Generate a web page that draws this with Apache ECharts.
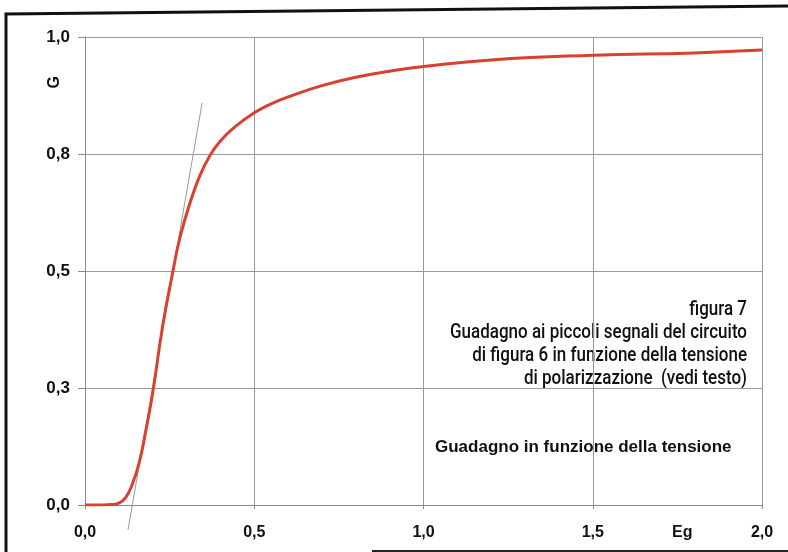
<!DOCTYPE html>
<html><head><meta charset="utf-8">
<script src="https://cdn.jsdelivr.net/npm/echarts@6/dist/echarts.min.js"></script>
<style>html,body{margin:0;padding:0;background:#fff}#c{width:788px;height:552px}</style>
</head><body><div id="c"></div>
<script>
// Data
const egValues = [0, 0.05, 0.08, 0.10, 0.12, 0.14, 0.16, 0.18, 0.20, 0.23, 0.26, 0.28, 0.31, 0.34, 0.37, 0.40, 0.44, 0.50, 0.55, 0.60, 0.70, 0.80, 0.90, 1.0, 1.2, 1.5, 1.8, 2.0];
const gainValues = [0, 0, 0.001, 0.004, 0.016, 0.045, 0.09, 0.16, 0.24, 0.385, 0.50, 0.57, 0.645, 0.705, 0.748, 0.778, 0.806, 0.838, 0.857, 0.872, 0.896, 0.914, 0.927, 0.937, 0.951, 0.961, 0.966, 0.972];
const tangentX = [0.127, 0.346];
const tangentY = [-0.053, 0.859];
const xTickLabels = ['0,0', '0,5', '1,0', '1,5', '2,0'];
const yTickLabels = ['0,0', '0,3', '0,5', '0,8', '1,0'];
const captionLines = ['figura 7', 'Guadagno ai piccoli segnali del circuito', 'di figura 6 in funzione della tensione', 'di polarizzazione  (vedi testo)'];
const legendText = 'Guadagno in funzione della tensione';
const xName = 'Eg';
const yName = 'G';

const curve = egValues.map((x, i) => [x, gainValues[i]]);
const tangent = tangentX.map((x, i) => [x, tangentY[i]]);

// condensed caption: scale a regular sans horizontally
const capFont = '500 21px Roboto, "Liberation Sans", Arial, sans-serif';
const mctx = document.createElement('canvas').getContext('2d');
mctx.font = capFont;
const capScale = 297 / mctx.measureText(captionLines[1]).width;
const capBaselines = [315, 338, 361, 384];

const chart = echarts.init(document.getElementById('c'), null, {renderer: 'canvas'});
const lblFont = {fontFamily: 'Liberation Sans, Arial, sans-serif', fontWeight: 'bold', color: '#111'};
const captionGraphics = captionLines.map((t, i) => ({
  type: 'text', x: 747, y: capBaselines[i] + 5, scaleX: capScale, scaleY: 1,
  style: {text: t, font: capFont, align: 'right', verticalAlign: 'bottom', fill: '#111'}
}));
chart.setOption({
  backgroundColor: '#fff',
  animation: false,
  grid: {left: 85, right: 26, top: 37, bottom: 47, containLabel: false},
  xAxis: {
    type: 'value', min: 0, max: 2, interval: 0.5,
    axisLine: {show: true, lineStyle: {color: '#8a8a8a', width: 1}},
    axisTick: {show: true, length: 4, lineStyle: {color: '#8a8a8a'}},
    splitLine: {show: true, lineStyle: {color: '#9a9a9a', width: 1}},
    axisLabel: Object.assign({margin: 20, fontSize: 16, formatter: v => xTickLabels[Math.round(v / 0.5)]}, lblFont)
  },
  yAxis: {
    type: 'value', min: 0, max: 1, interval: 0.25,
    axisLine: {show: true, lineStyle: {color: '#8a8a8a', width: 1}},
    axisTick: {show: true, length: 7, lineStyle: {color: '#8a8a8a'}},
    splitLine: {show: true, lineStyle: {color: '#9a9a9a', width: 1}},
    axisLabel: Object.assign({margin: 15, fontSize: 17, formatter: v => yTickLabels[Math.round(v / 0.25)]}, lblFont)
  },
  series: [
    {type: 'line', data: tangent, symbol: 'none', clip: false, z: 1,
     lineStyle: {color: '#9a9a9a', width: 1}},
    {type: 'line', data: curve, symbol: 'none', smooth: 0.5, z: 2,
     lineStyle: {color: '#d8412f', width: 3}}
  ],
  graphic: captionGraphics.concat([
    {type: 'text', left: 47, top: 76, rotation: Math.PI / 2,
     style: {text: yName, font: 'bold 16px "Liberation Sans", Arial, sans-serif', fill: '#111'}},
    {type: 'text', left: 672, top: 525,
     style: {text: xName, font: 'bold 16px "Liberation Sans", Arial, sans-serif', fill: '#111'}},
    {type: 'text', left: 435, top: 439,
     style: {text: legendText, font: 'bold 17px "Liberation Sans", Arial, sans-serif', fill: '#111'}},
    {type: 'polyline', shape: {points: [[6, 552], [6, 14], [788, 6]]}, style: {stroke: '#111', lineWidth: 3, fill: null}},
    {type: 'polyline', shape: {points: [[372, 551], [788, 551]]}, style: {stroke: '#222', lineWidth: 2, fill: null}}
  ])
});
</script></body></html>
